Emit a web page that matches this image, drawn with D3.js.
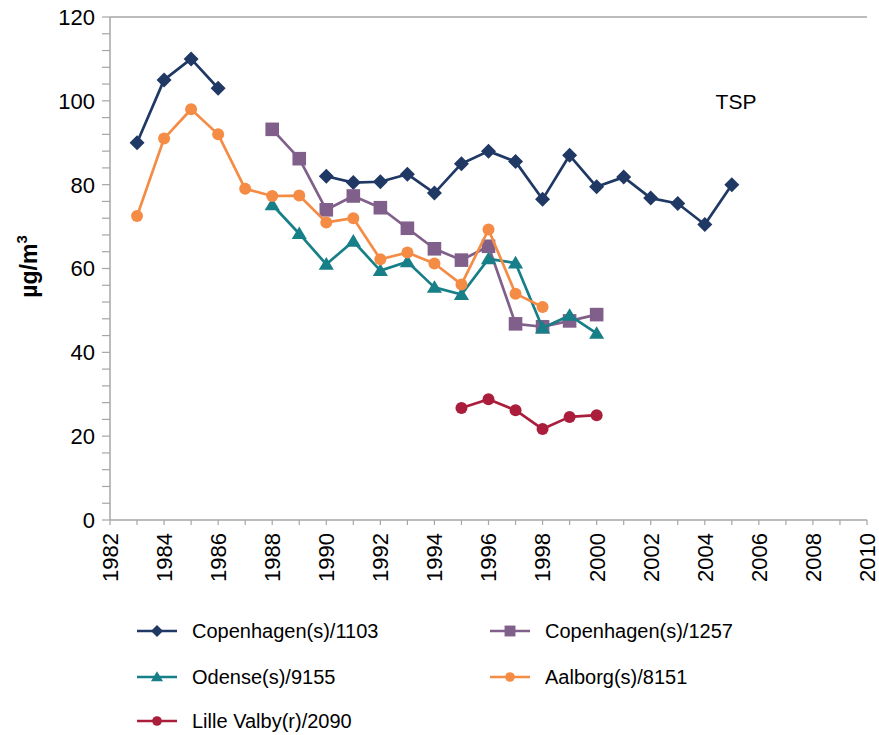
<!DOCTYPE html>
<meta charset="utf-8">
<style>
  body { margin: 0; background: #fff; }
  text { font-family: "Liberation Sans", Arial, sans-serif; fill: #000; }
</style>
<body></body>
<script src="https://d3js.org/d3.v7.min.js"></script>
<script>

const width = 879, height = 735;

// values (µg/m3)
const cph1103Years = [1983, 1984, 1985, 1986, 1990, 1991, 1992, 1993, 1994, 1995, 1996, 1997, 1998, 1999, 2000, 2001, 2002, 2003, 2004, 2005];
const cph1103 = [90, 105, 110, 103, 82, 80.5, 80.7, 82.5, 78, 85, 88, 85.5, 76.5, 87, 79.5, 81.8, 76.8, 75.5, 70.5, 80];

const cph1257Years = [1988, 1989, 1990, 1991, 1992, 1993, 1994, 1995, 1996, 1997, 1998, 1999, 2000];
const cph1257 = [93.2, 86.2, 74, 77.3, 74.5, 69.6, 64.7, 62, 65.3, 46.8, 46.1, 47.5, 49];

const odenseYears = [1988, 1989, 1990, 1991, 1992, 1993, 1994, 1995, 1996, 1997, 1998, 1999, 2000];
const odense = [75.2, 68.3, 61, 66.5, 59.5, 61.6, 55.5, 53.8, 62.3, 61.3, 45.8, 48.8, 44.5];

const aalborgYears = [1983, 1984, 1985, 1986, 1987, 1988, 1989, 1990, 1991, 1992, 1993, 1994, 1995, 1996, 1997, 1998];
const aalborg = [72.5, 91, 98, 92, 79, 77.3, 77.4, 71, 72, 62.2, 63.8, 61.2, 56.2, 69.3, 54, 50.8];

const lilleValbyYears = [1995, 1996, 1997, 1998, 1999, 2000];
const lilleValby = [26.7, 28.8, 26.2, 21.7, 24.6, 25];

const seriesNames = ["Copenhagen(s)/1103", "Copenhagen(s)/1257", "Odense(s)/9155", "Aalborg(s)/8151", "Lille Valby(r)/2090"];
const seriesColors = ["#1f3864", "#80608a", "#177f87", "#f58c46", "#aa1e3c"];
const seriesMarkers = ["diamond", "square", "triangle", "circle", "circle"];

const yTicks = [0, 20, 40, 60, 80, 100, 120];
const xTicks = [1982, 1984, 1986, 1988, 1990, 1992, 1994, 1996, 1998, 2000, 2002, 2004, 2006, 2008, 2010];

const series = [
  {years: cph1103Years, values: cph1103},
  {years: cph1257Years, values: cph1257},
  {years: odenseYears, values: odense},
  {years: aalborgYears, values: aalborg},
  {years: lilleValbyYears, values: lilleValby}
].map((s, i) => ({
  name: seriesNames[i], color: seriesColors[i], marker: seriesMarkers[i],
  points: s.years.map((yr, j) => ({year: yr, value: s.values[j]}))
}));

// missing years break the line
function withGaps(points) {
  const out = [];
  points.forEach((p, i) => {
    if (i > 0 && p.year - points[i - 1].year > 1) out.push({year: p.year - 1, value: null});
    out.push(p);
  });
  return out;
}

const margin = {left: 110, right: 12, top: 17, bottom: 215};

const x = d3.scaleLinear().domain([1982, 2010]).range([margin.left, width - margin.right]);
const y = d3.scaleLinear().domain([0, 120]).range([height - margin.bottom, margin.top]);

const svg = d3.select("body").append("svg")
    .attr("width", width)
    .attr("height", height);

const axisColor = "#a6a6a6";

// top border line
svg.append("line")
    .attr("x1", x(1982)).attr("x2", x(2010))
    .attr("y1", y(120)).attr("y2", y(120))
    .attr("stroke", axisColor).attr("stroke-width", 1.5);

// y axis with minor ticks every 4
const yAxis = svg.append("g").attr("transform", `translate(${x(1982)},0)`);
yAxis.append("line")
    .attr("y1", y(0)).attr("y2", y(120))
    .attr("stroke", axisColor).attr("stroke-width", 1.5);
yAxis.selectAll("line.tick")
  .data(d3.range(0, 121, 4))
  .join("line")
    .attr("class", "tick")
    .attr("x1", -8).attr("x2", 0)
    .attr("y1", d => y(d)).attr("y2", d => y(d))
    .attr("stroke", axisColor).attr("stroke-width", 1.2);
yAxis.selectAll("text")
  .data(yTicks)
  .join("text")
    .attr("x", -15)
    .attr("y", d => y(d))
    .attr("dy", "0.36em")
    .attr("text-anchor", "end")
    .attr("font-size", 22)
    .text(d => d);

// x axis, ticks every year, labels every 2
const xAxis = svg.append("g").attr("transform", `translate(0,${y(0)})`);
xAxis.append("line")
    .attr("x1", x(1982)).attr("x2", x(2010))
    .attr("stroke", axisColor).attr("stroke-width", 1.5);
xAxis.selectAll("line.tick")
  .data(d3.range(1982, 2011))
  .join("line")
    .attr("class", "tick")
    .attr("x1", d => x(d)).attr("x2", d => x(d))
    .attr("y1", 0).attr("y2", 5)
    .attr("stroke", axisColor).attr("stroke-width", 1.2);
xAxis.selectAll("text")
  .data(xTicks)
  .join("text")
    .attr("transform", d => `translate(${x(d)},13) rotate(-90)`)
    .attr("dy", "0.36em")
    .attr("text-anchor", "end")
    .attr("font-size", 22)
    .text(d => d);

// y axis title
const yTitle = svg.append("text")
    .attr("transform", `translate(37,${y(60) - 2}) rotate(-90)`)
    .attr("text-anchor", "middle")
    .attr("font-size", 23)
    .attr("font-weight", "bold");
yTitle.append("tspan").text("µg/m");
yTitle.append("tspan").attr("font-size", 15).attr("dy", "-0.7em").text("3");

// annotation
svg.append("text")
    .attr("x", x(2004.4))
    .attr("y", y(98))
    .attr("font-size", 21)
    .text("TSP");

function markerPath(type, s) {
  if (type === "diamond") return `M0,${-s}L${s},0L0,${s}L${-s},0Z`;
  if (type === "square") return `M${-s},${-s}H${s}V${s}H${-s}Z`;
  if (type === "triangle") return `M0,${-s}L${s * 1.05},${s * 0.75}H${-s * 1.05}Z`;
  return d3.arc()({innerRadius: 0, outerRadius: s, startAngle: 0, endAngle: 2 * Math.PI});
}
const markerSize = {diamond: 7.5, square: 6.8, triangle: 7.2, circle: 6};

const line = d3.line()
    .defined(d => d.value != null)
    .x(d => x(d.year)).y(d => y(d.value));

const sg = svg.append("g").selectAll("g")
  .data(series)
  .join("g");

sg.append("path")
    .attr("d", d => line(withGaps(d.points)))
    .attr("fill", "none")
    .attr("stroke", d => d.color)
    .attr("stroke-width", 2.7)
    .attr("stroke-linejoin", "round");

sg.each(function(s) {
  d3.select(this).selectAll("path.mk")
    .data(s.points)
    .join("path")
      .attr("class", "mk")
      .attr("transform", d => `translate(${x(d.year)},${y(d.value)})`)
      .attr("d", markerPath(s.marker, markerSize[s.marker]))
      .attr("fill", s.color);
});

// legend
const legendPos = [[137, 631], [490, 631], [137, 677], [490, 677], [137, 721]];
const lg = svg.append("g").selectAll("g")
  .data(series)
  .join("g")
    .attr("transform", (d, i) => `translate(${legendPos[i][0]},${legendPos[i][1]})`);
lg.append("line")
    .attr("x1", 0).attr("x2", 40)
    .attr("stroke", d => d.color).attr("stroke-width", 2.7);
lg.append("path")
    .attr("transform", "translate(20,0)")
    .attr("d", d => markerPath(d.marker, markerSize[d.marker] * 0.8))
    .attr("fill", d => d.color);
lg.append("text")
    .attr("x", 55)
    .attr("dy", "0.36em")
    .attr("font-size", 20)
    .text(d => d.name);

</script>
